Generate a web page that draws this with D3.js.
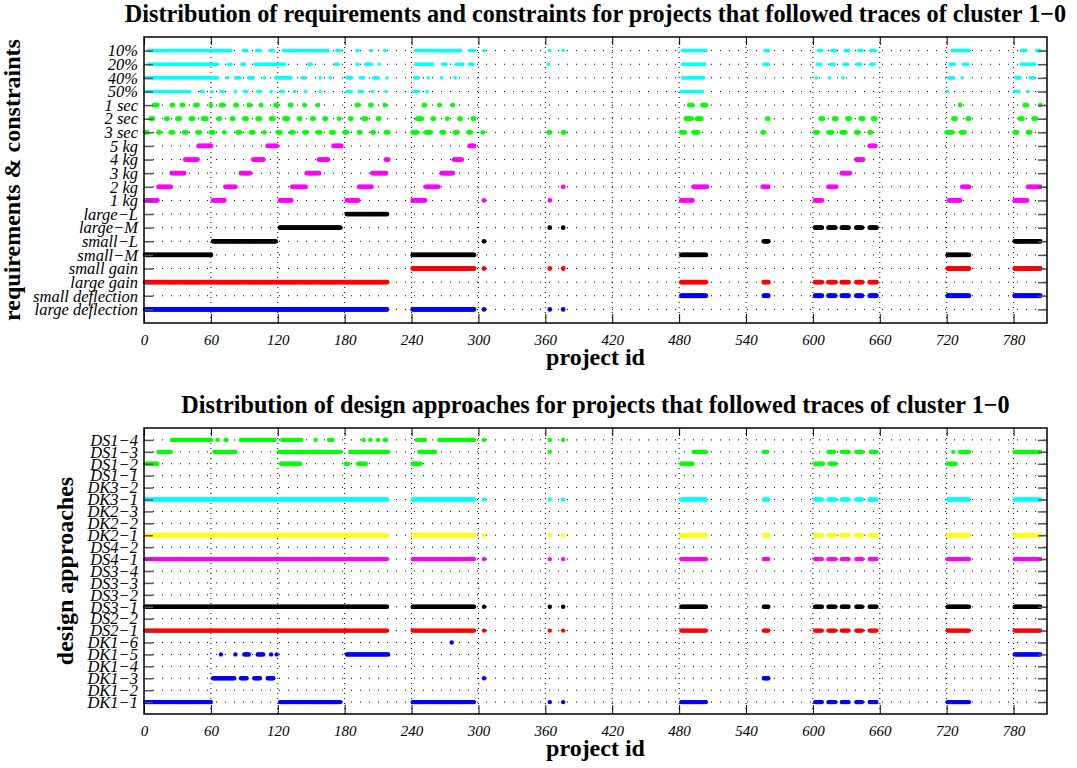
<!DOCTYPE html>
<html><head><meta charset="utf-8">
<script src="https://cdnjs.cloudflare.com/ajax/libs/d3/7.8.5/d3.min.js"></script>
<style>body{margin:0;background:#fff}svg{display:block}</style>
</head><body>
<svg id="chart" width="1077" height="768"></svg>
<script>
// ---------- DATA ----------
const xTicks = [0,60,120,180,240,300,360,420,480,540,600,660,720,780];
const xMax = 810;

const topTitle = "Distribution of requirements and constraints for projects that followed traces of cluster 1\u22120";
const bottomTitle = "Distribution of design approaches for projects that followed traces of cluster 1\u22120";

const topCategories = ["10%","20%","40%","50%","1 sec","2 sec","3 sec","5 kg","4 kg","3 kg","2 kg","1 kg",
  "large\u2212L","large\u2212M","small\u2212L","small\u2212M","small gain","large gain","small deflection","large deflection"];
const topColors = ["#00ffff","#00ffff","#00ffff","#00ffff","#00ff00","#00ff00","#00ff00","#ff00ff","#ff00ff","#ff00ff","#ff00ff","#ff00ff",
  "#000000","#000000","#000000","#000000","#ff0000","#ff0000","#0000ff","#0000ff"];

const bottomCategories = ["DS1\u22124","DS1\u22123","DS1\u22122","DS1\u22121","DK3\u22122","DK3\u22121","DK2\u22123","DK2\u22122","DK2\u22121",
  "DS4\u22122","DS4\u22121","DS3\u22124","DS3\u22123","DS3\u22122","DS3\u22121","DS2\u22122","DS2\u22121",
  "DK1\u22126","DK1\u22125","DK1\u22124","DK1\u22123","DK1\u22122","DK1\u22121"];
const bottomColors = ["#00ff00","#00ff00","#00ff00","#00ff00","#00ffff","#00ffff","#ffff00","#ffff00","#ffff00",
  "#ff00ff","#ff00ff","#000000","#000000","#000000","#000000","#ff0000","#ff0000",
  "#0000ff","#0000ff","#0000ff","#0000ff","#0000ff","#0000ff"];

// project-id runs: [first,last] or single id
const pct10 = [[4,78],[89,92],[101,104],[113,116],[125,165],[173,176],[191,192],204,216,[244,284],[293,296],305,364,376,[483,504],[557,560],[605,608],[617,620],[629,632],[641,644],[652,656],[725,740],[787,791],[801,804]];
const pct20 = [[4,66],[76,78],[88,90],[100,126],[148,150],[172,174],[191,192],[199,204],211,[244,259],[268,271],[280,286],[292,295],363,[483,503],[556,560],[604,607],[616,619],[628,631],[640,643],[652,655],[723,727],[735,739],[787,799]];
const pct40 = [[1,66],75,[82,86],[94,98],108,[118,132],[142,144],158,167,[182,186],[194,197],[206,210],218,[243,246],255,267,279,[483,502],603,615,627,[722,726],734,[782,786],[795,798]];
const pct50 = [[1,41],[51,53],61,[69,71],82,[90,92],[102,104],114,[123,125],135,145,158,[182,186],[193,196],205,217,[242,246],254,[482,501],721,[781,785],793];
const sec1 = [[9,12],[25,26],[34,35],[46,48],60,[69,71],[82,83],[94,95],105,[118,119],[131,132],144,156,[191,192],[203,204],216,[251,252],265,277,[489,492],[501,504],732,[790,792],804];
const sec2 = [[6,8],[20,21],[30,32],[42,44],[53,56],[67,68],[79,80],[90,92],[102,104],[114,116],[126,129],[139,140],[151,152],[162,163],175,[185,186],[197,199],[210,211],[245,249],[259,260],272,[283,284],[295,296],[486,491],[496,500],[559,560],[607,609],[619,621],[631,633],[643,645],[654,656],[726,728],[739,740],[786,788],[798,800]];
const sec3 = [[1,3],[13,14],[24,26],[36,38],[48,50],[60,62],72,[84,86],[96,98],108,[120,122],[132,134],[144,146],[156,158],[168,170],[180,182],[193,194],[205,206],[217,219],[241,245],[253,257],[267,269],[279,281],[291,293],304,[363,364],[376,377],[482,485],[493,497],[555,556],[602,604],[614,617],[626,629],[639,641],[651,652],[720,725],[733,736],[781,783],[793,795]];
const kg5 = [[49,60],[111,119],[170,177],[292,296],[651,656]];
const kg4 = [[37,48],[98,107],[157,165],[217,219],[278,285],[639,645]];
const kg3 = [[25,36],[87,95],[146,157],[205,217],[267,277],[626,633]];
const kg2 = [[13,24],[73,82],[133,145],[193,204],[253,264],376,[493,505],[555,560],[614,621],[734,740],[793,804]];
const kg1 = [[1,12],[62,72],[122,132],[182,192],[241,252],305,364,[482,492],[602,608],[722,732],[781,792]];
const largeL = [[182,218]];
const largeM = [[122,176],364,376,[602,608],[614,620],[626,632],[639,644],[651,657]];
const smallL = [[62,118],305,[556,560],[781,804]];
const smallM = [[1,60],[241,296],[482,504],[721,740]];
const smallGain = [[241,296],305,364,376,[721,740],[781,804]];
const largeGain = [[1,218],[482,504],[556,560],[602,608],[614,620],[626,632],[639,644],[651,657]];
const smallDefl = [[482,504],[556,560],[602,608],[614,620],[626,632],[639,644],[651,657],[721,740],[781,804]];
const largeDefl = [[1,218],[241,296],305,364,376];

// all projects of the cluster (rows with every project)
const allProjects = [[1,218],[241,296],305,364,376,[482,504],[556,560],[602,608],[614,620],[626,632],[639,644],[651,657],[721,740],[781,804]];
const ds14 = [[25,60],66,[73,74],[87,117],[124,141],154,[166,169],197,203,210,[216,217],[245,252],[265,296],305,364,376];
const ds13 = [[13,24],[63,82],[121,176],[185,219],[247,261],364,[493,504],[556,559],[614,619],[626,632],[639,644],[652,657],726,[732,740],[781,804]];
const ds12 = [[1,12],[123,140],[181,183],[192,199],[241,248],[482,492],[602,609],[615,620],[721,728]];
const dk16 = [276];
const dk15 = [69,82,[90,94],[102,107],114,119,[182,219],[781,804]];
const dk13 = [[62,81],[87,92],[99,104],[111,116],305,[556,560]];
const dk11 = [[1,60],[122,176],[241,296],364,376,[482,504],[602,608],[614,620],[626,632],[639,644],[651,657],[721,740]];

const topRuns = [pct10,pct20,pct40,pct50,sec1,sec2,sec3,kg5,kg4,kg3,kg2,kg1,largeL,largeM,smallL,smallM,smallGain,largeGain,smallDefl,largeDefl];
const bottomRuns = [ds14,ds13,ds12,[],[],allProjects,[],[],allProjects,[],allProjects,[],[],[],allProjects,[],allProjects,dk16,dk15,[],dk13,[],dk11];

// ---------- DRAW ----------
const svg = d3.select("#chart");
const serif = "'Liberation Serif','Times New Roman',serif";

function expand(runs, cat, color){
  const pts = [];
  runs.forEach(r => {
    if (Array.isArray(r)) { for (let i=r[0]; i<=r[1]; i++) pts.push({id:i,cat,color}); }
    else pts.push({id:r,cat,color});
  });
  return pts;
}

function panel(opt){
  const x = d3.scaleLinear().domain([0,xMax]).range([opt.left,opt.right]);
  const y = d3.scalePoint().domain(opt.cats).range([opt.top,opt.bottom]).padding(1);
  const g = svg.append("g");

  // grid
  g.append("g").selectAll("line.h").data(opt.cats).join("line")
    .attr("x1",opt.left).attr("x2",opt.right).attr("y1",d=>y(d)).attr("y2",d=>y(d))
    .attr("stroke","#000").attr("stroke-width",1).attr("stroke-dasharray","1,8");
  g.append("g").selectAll("line.v").data(xTicks.filter(t=>t>0)).join("line")
    .attr("x1",d=>x(d)).attr("x2",d=>x(d)).attr("y1",opt.top).attr("y2",opt.bottom)
    .attr("stroke","#000").attr("stroke-width",1).attr("stroke-dasharray","1,4");

  // dots
  const pts = [];
  opt.cats.forEach((c,i)=>pts.push(...expand(opt.runs[i],c,opt.colors[i])));
  g.append("g").selectAll("circle").data(pts).join("circle")
    .attr("cx",d=>x(d.id)).attr("cy",d=>y(d.cat))
    .attr("r",d=>d.color==="#00ffff" && opt.small ? 1.8 : opt.r)
    .attr("fill",d=>d.color);

  // axes
  const ax = g.append("g").attr("transform",`translate(0,${opt.bottom})`)
    .call(d3.axisBottom(x).tickValues(xTicks).tickSize(-9).tickPadding(11));
  ax.select(".domain").remove();
  ax.selectAll("line").attr("stroke","#000").attr("stroke-width",1);
  ax.selectAll("text").attr("font-family",serif).attr("font-style","italic").attr("font-size",15).attr("fill","#000");

  const axT = g.append("g").attr("transform",`translate(0,${opt.top})`)
    .call(d3.axisTop(x).tickValues(xTicks).tickSize(-8).tickFormat(""));
  axT.select(".domain").remove();
  axT.selectAll("line").attr("stroke","#000");

  const ayL = g.append("g").attr("transform",`translate(${opt.left},0)`)
    .call(d3.axisLeft(y).tickSize(-9).tickPadding(6));
  ayL.select(".domain").remove();
  ayL.selectAll("line").attr("stroke","#555").attr("stroke-width",1.5);
  ayL.selectAll("text").attr("font-family",serif).attr("font-style","italic").attr("font-size",opt.ylabSize).attr("fill","#000")
    .attr("x",-6);

  const ayR = g.append("g").attr("transform",`translate(${opt.right},0)`)
    .call(d3.axisRight(y).tickSize(-9).tickFormat(""));
  ayR.select(".domain").remove();
  ayR.selectAll("line").attr("stroke","#555").attr("stroke-width",1.5);

  // frame
  g.append("rect").attr("x",opt.left).attr("y",opt.top).attr("width",opt.right-opt.left).attr("height",opt.bottom-opt.top)
    .attr("fill","none").attr("stroke","#000").attr("stroke-width",1.5);

  // titles
  svg.append("text").attr("x",(opt.left+opt.right)/2).attr("y",opt.top-15).attr("text-anchor","middle")
    .attr("font-family",serif).attr("font-weight","bold").attr("font-size",24.2).text(opt.title);
  svg.append("text").attr("x",(opt.left+opt.right)/2).attr("y",opt.bottom+42).attr("text-anchor","middle")
    .attr("font-family",serif).attr("font-weight","bold").attr("font-size",24).text("project id");
  svg.append("text").attr("transform",`translate(${opt.ylabX},${(opt.top+opt.bottom)/2}) rotate(-90)`)
    .attr("text-anchor","middle").attr("font-family",serif).attr("font-weight","bold").attr("font-size",24).text(opt.ylabel);
}

panel({left:144,right:1047,top:37,bottom:323,cats:topCategories,colors:topColors,runs:topRuns,r:2.4,small:true,
  title:topTitle,ylabel:"requirements & constraints",ylabX:20,ylabSize:16.5});
panel({left:144,right:1047,top:428,bottom:714,cats:bottomCategories,colors:bottomColors,runs:bottomRuns,r:2.2,small:false,
  title:bottomTitle,ylabel:"design approaches",ylabX:73,ylabSize:16.5});
</script>
</body></html>
